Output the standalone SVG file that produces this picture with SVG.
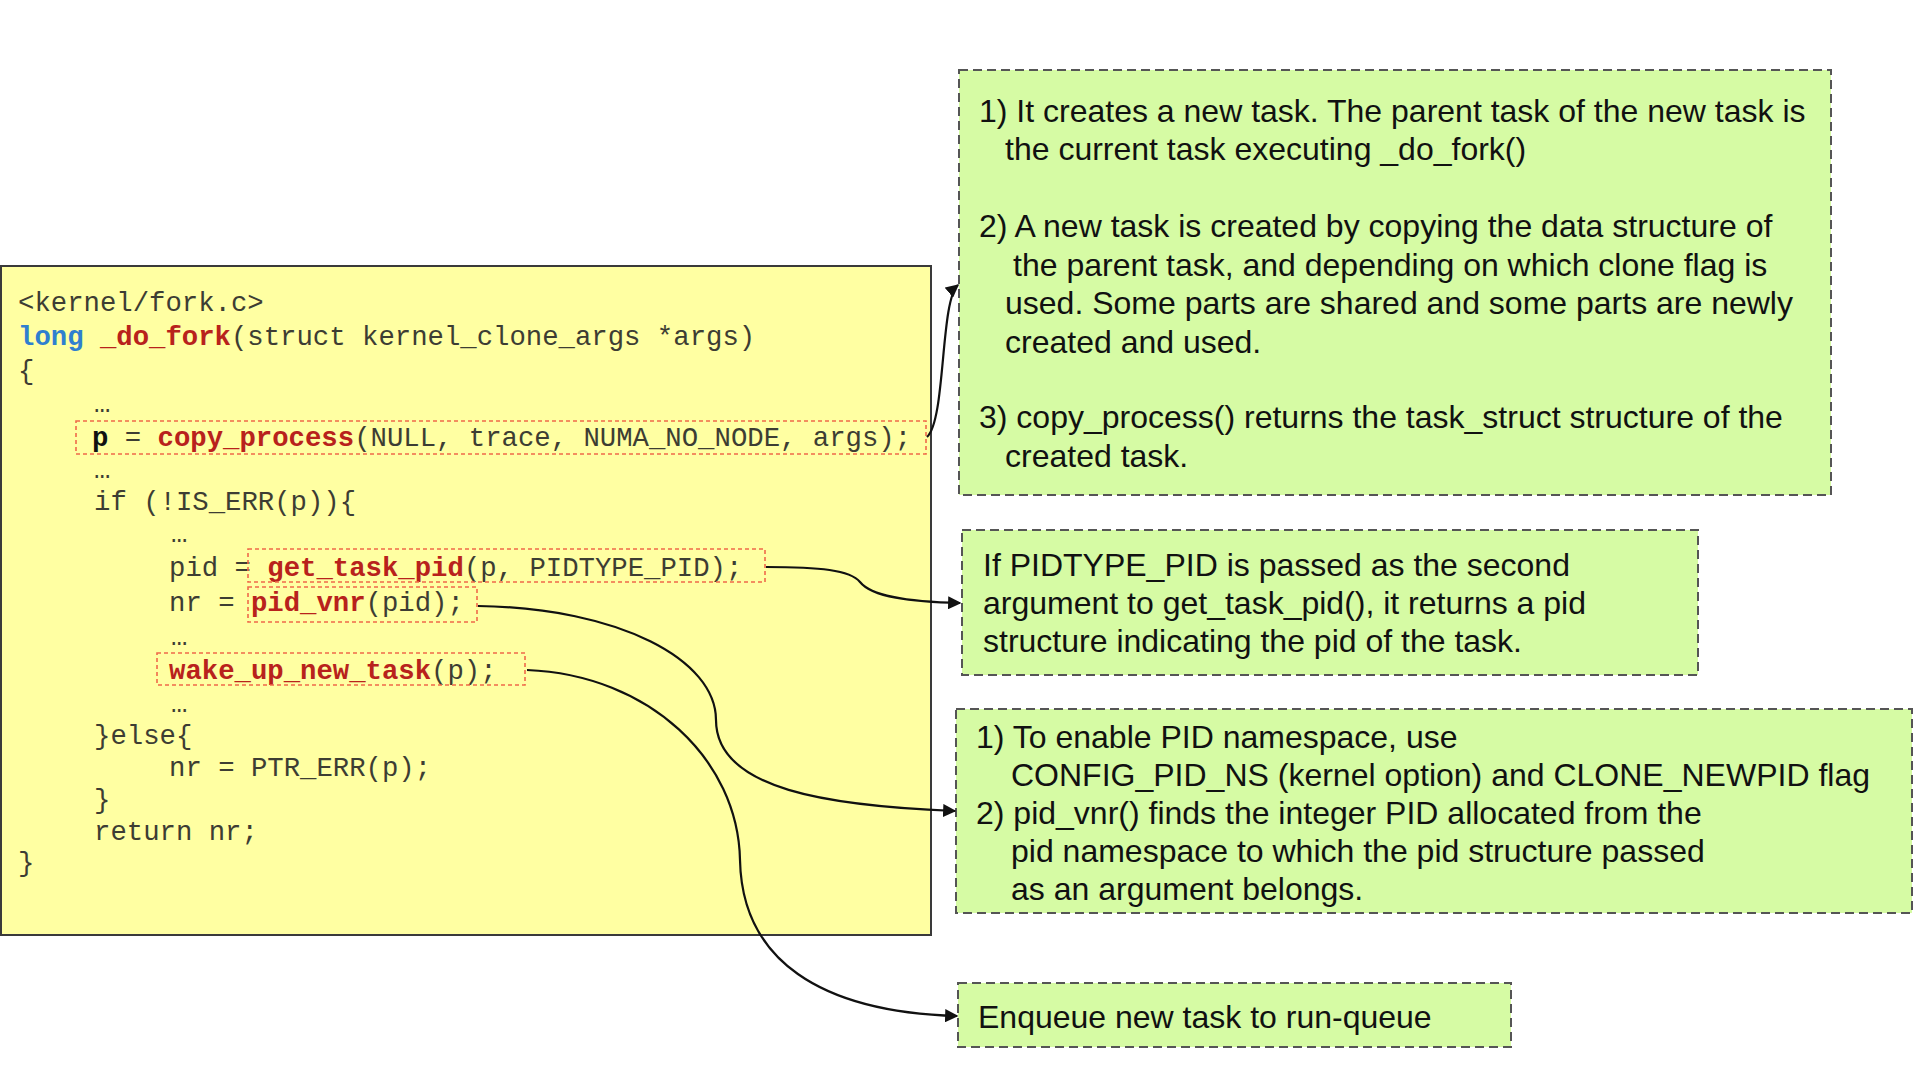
<svg xmlns="http://www.w3.org/2000/svg" width="1914" height="1080" viewBox="0 0 1914 1080">
<style>
.code{font-family:"Liberation Mono","Courier New",monospace;font-size:27.3px;fill:#3d3d33;white-space:pre}
.fn{font-weight:bold;fill:#b8221c}
.kw{font-weight:bold;fill:#2f7fcf}
.bp{font-weight:bold;fill:#111}
.hl{fill:none;stroke:#ef6a4a;stroke-width:1.6;stroke-dasharray:4 3}
.note{fill:#d6fba4;stroke:#555;stroke-width:2;stroke-dasharray:9 5}
.nt{font-family:"Liberation Sans",Arial,Helvetica,sans-serif;font-size:32px;fill:#111}
.conn{fill:none;stroke:#111;stroke-width:2.2}
</style>
<defs>
<marker id="ah" viewBox="0 0 10 10" refX="9" refY="5" markerWidth="6" markerHeight="6" orient="auto" markerUnits="strokeWidth">
<path d="M0,0 L10,5 L0,10 z" fill="#111"/>
</marker>
</defs>
<rect width="1914" height="1080" fill="#fff"/>

<g id="code-box">
<rect x="1" y="266" width="930" height="669" fill="#ffffa2" stroke="#3a3a3a" stroke-width="2"/>
<text class="code" x="18" y="311">&lt;kernel/fork.c&gt;</text>
<text class="code" x="18" y="345"><tspan class="kw">long</tspan> <tspan class="fn">_do_fork</tspan>(struct kernel_clone_args *args)</text>
<text class="code" x="18" y="379">{</text>
<text class="code" x="94" y="412">…</text>
<text class="code" x="92" y="446"><tspan class="bp">p</tspan> = <tspan class="fn">copy_process</tspan>(NULL, trace, NUMA_NO_NODE, args);</text>
<text class="code" x="94" y="478">…</text>
<text class="code" x="94" y="510">if (!IS_ERR(p)){</text>
<text class="code" x="171" y="542">…</text>
<text class="code" x="169" y="576">pid = <tspan class="fn">get_task_pid</tspan>(p, PIDTYPE_PID);</text>
<text class="code" x="169" y="611">nr = <tspan class="fn">pid_vnr</tspan>(pid);</text>
<text class="code" x="171" y="645">…</text>
<text class="code" x="169" y="679"><tspan class="fn">wake_up_new_task</tspan>(p);</text>
<text class="code" x="171" y="712">…</text>
<text class="code" x="94" y="744">}else{</text>
<text class="code" x="169" y="776">nr = PTR_ERR(p);</text>
<text class="code" x="94" y="808">}</text>
<text class="code" x="94" y="840">return nr;</text>
<text class="code" x="18" y="871">}</text>
<rect class="hl" x="76" y="421" width="850" height="33"/>
<rect class="hl" x="248" y="549" width="517" height="33"/>
<rect class="hl" x="248" y="587" width="229" height="35"/>
<rect class="hl" x="157" y="653" width="368" height="32"/>
</g>

<g id="note-copy-process">
<rect class="note" x="959" y="70" width="872" height="425"/>
<text class="nt" x="979" y="122">1) It creates a new task. The parent task of the new task is</text>
<text class="nt" x="1005" y="160">the current task executing _do_fork()</text>
<text class="nt" x="979" y="237">2) A new task is created by copying the data structure of</text>
<text class="nt" x="1013" y="276">the parent task, and depending on which clone flag is</text>
<text class="nt" x="1005" y="314">used. Some parts are shared and some parts are newly</text>
<text class="nt" x="1005" y="353">created and used.</text>
<text class="nt" x="979" y="428">3) copy_process() returns the task_struct structure of the</text>
<text class="nt" x="1005" y="467">created task.</text>
</g>

<g id="note-get-task-pid">
<rect class="note" x="962" y="530" width="736" height="145"/>
<text class="nt" x="983" y="576">If PIDTYPE_PID is passed as the second</text>
<text class="nt" x="983" y="614">argument to get_task_pid(), it returns a pid</text>
<text class="nt" x="983" y="652">structure indicating the pid of the task.</text>
</g>

<g id="note-pid-vnr">
<rect class="note" x="956" y="709" width="956" height="204"/>
<text class="nt" x="976" y="748">1) To enable PID namespace, use</text>
<text class="nt" x="1011" y="786">CONFIG_PID_NS (kernel option) and CLONE_NEWPID flag</text>
<text class="nt" x="976" y="824">2) pid_vnr() finds the integer PID allocated from the</text>
<text class="nt" x="1011" y="862">pid namespace to which the pid structure passed</text>
<text class="nt" x="1011" y="900">as an argument belongs.</text>
</g>

<g id="note-wake-up">
<rect class="note" x="958" y="983" width="553" height="64"/>
<text class="nt" x="978" y="1028">Enqueue new task to run-queue</text>
</g>

<g id="connectors">
<path class="conn" marker-end="url(#ah)" d="M 927 437 C 946 420, 940 300, 958 285"/>
<path class="conn" marker-end="url(#ah)" d="M 766 567 C 820 567, 850 570, 860 582 C 872 597, 910 602, 960 603"/>
<path class="conn" marker-end="url(#ah)" d="M 478 606 C 620 608, 716 660, 716 720 C 716 790, 830 806, 955 811"/>
<path class="conn" marker-end="url(#ah)" d="M 527 670 C 650 675, 738 760, 740 860 C 742 960, 820 1012, 957 1016"/>
</g>
</svg>
